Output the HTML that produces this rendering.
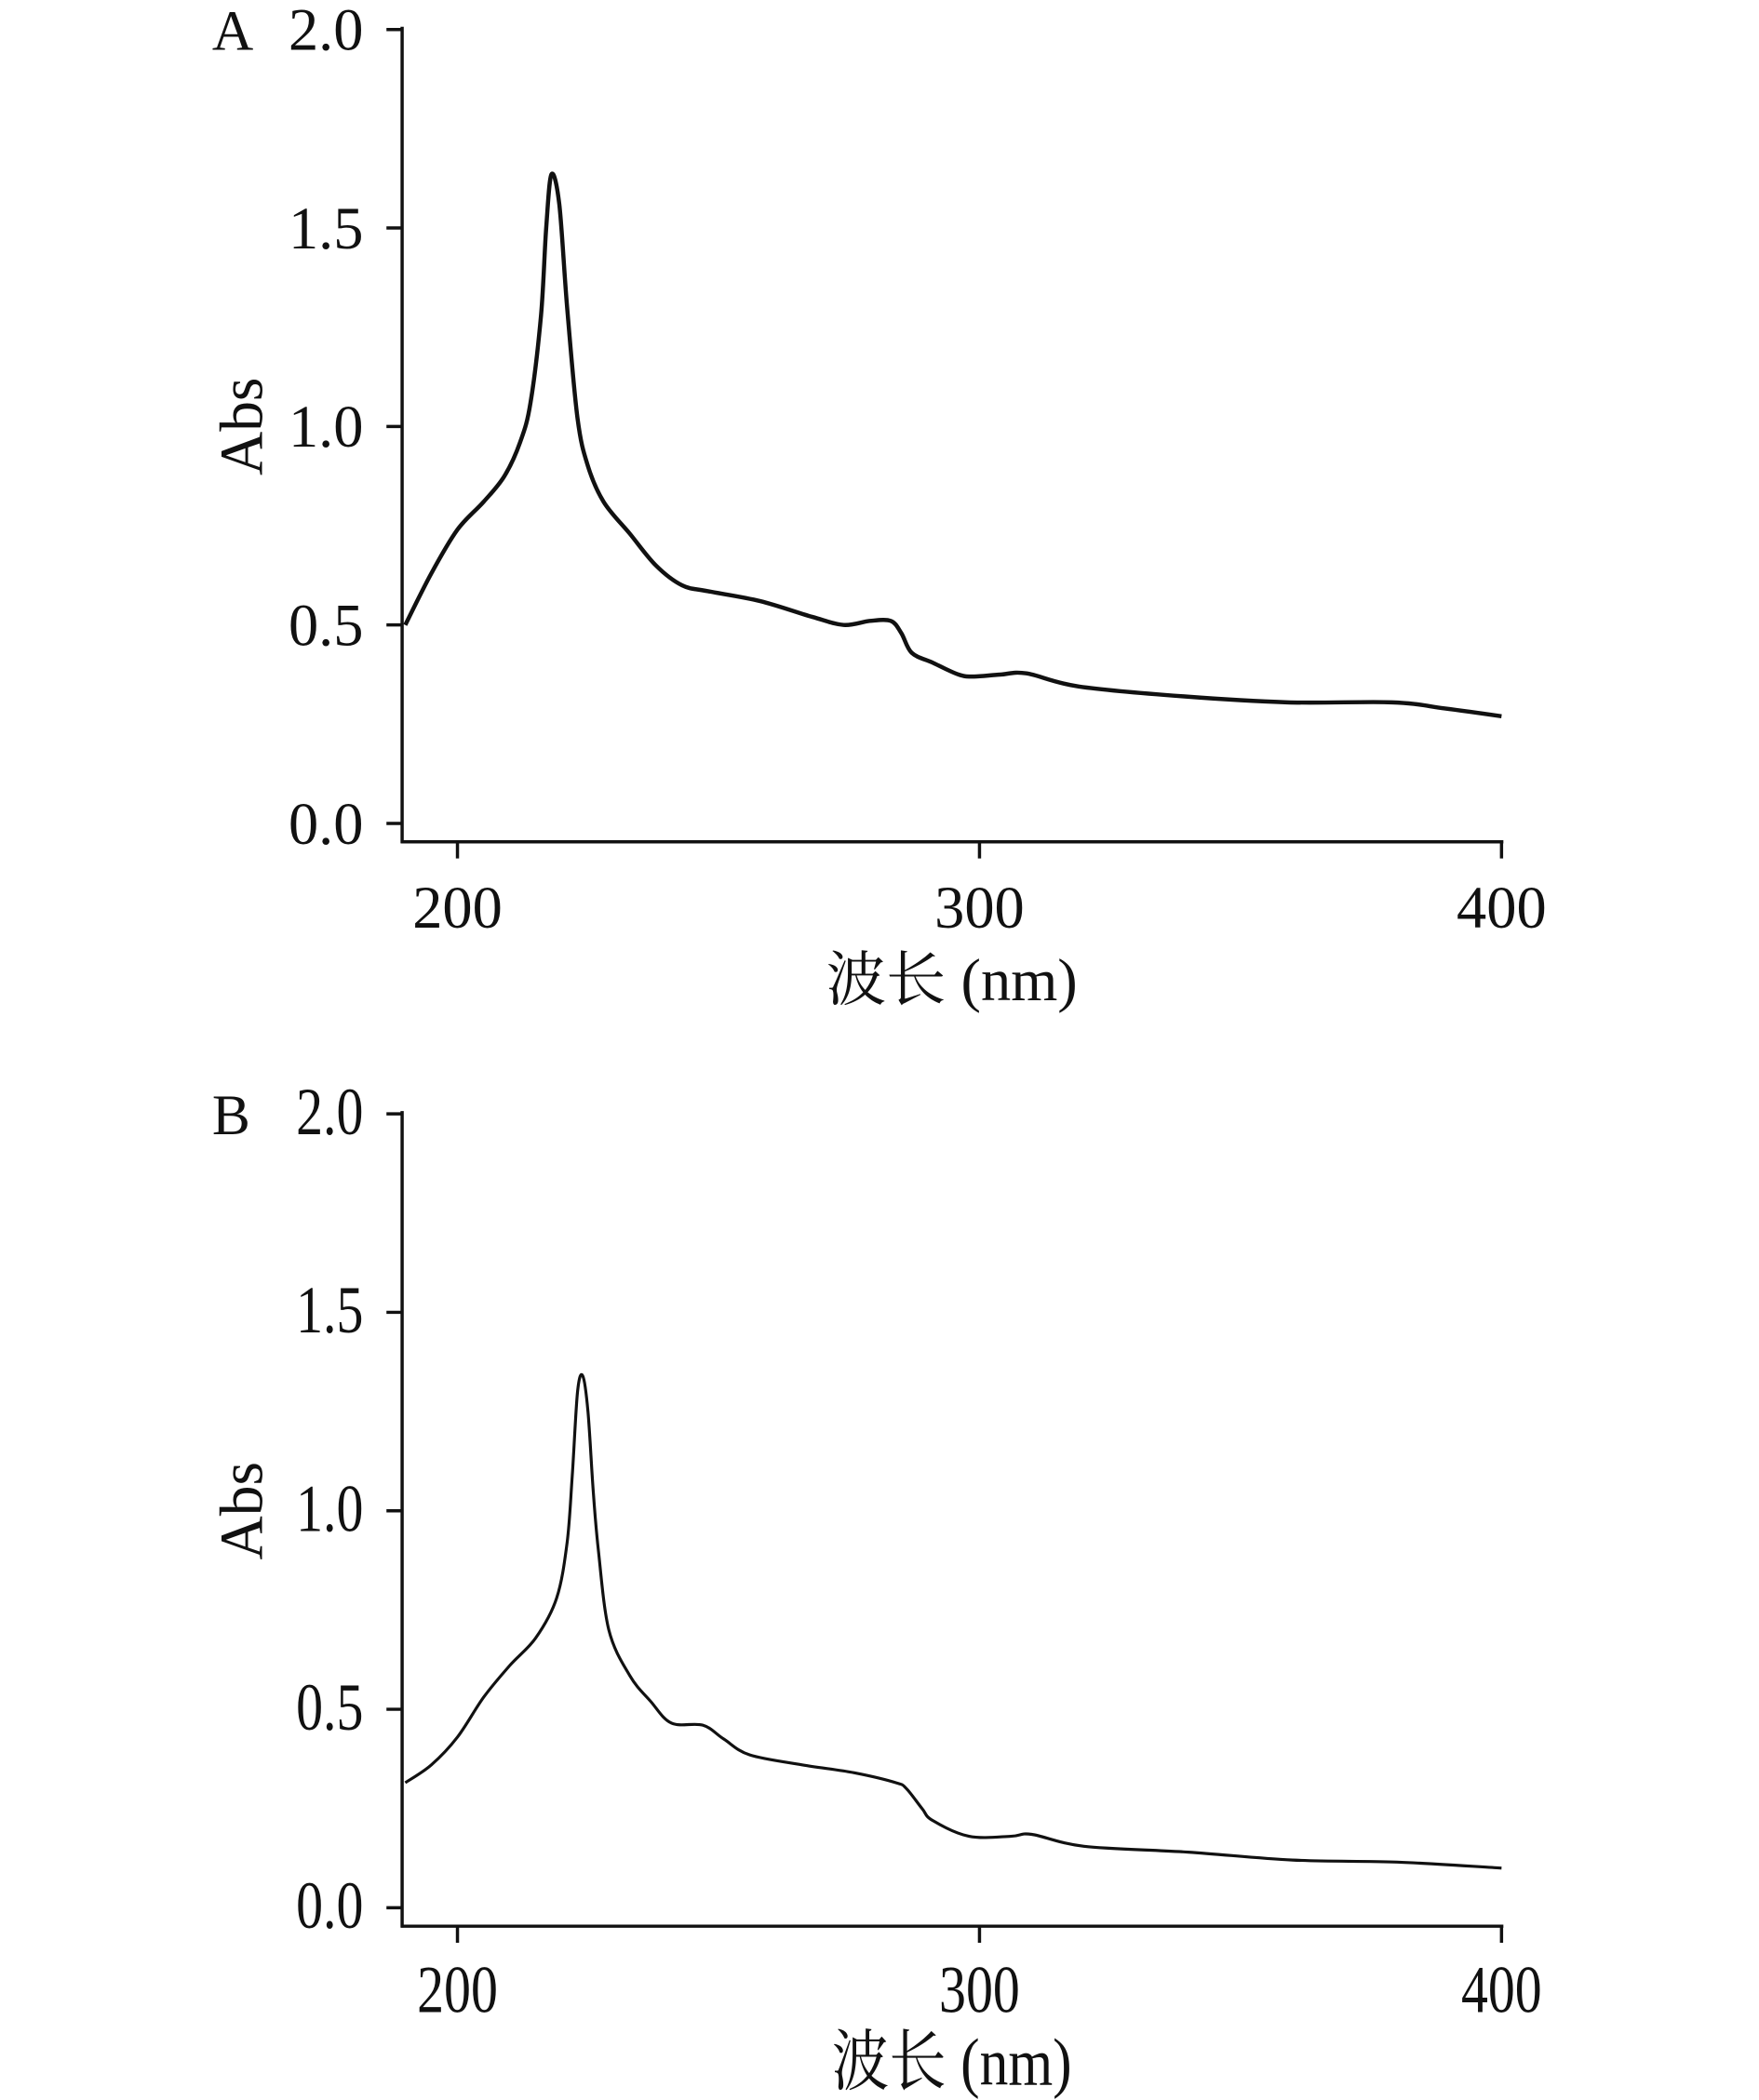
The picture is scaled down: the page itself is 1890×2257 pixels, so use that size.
<!DOCTYPE html>
<html><head><meta charset="utf-8"><style>
html,body{margin:0;padding:0;background:#fff;}
svg{display:block;}
text{font-family:"Liberation Serif","Noto Serif CJK SC",serif;fill:#111;}
</style></head><body>
<svg id="fig" width="1890" height="2257" viewBox="0 0 1890 2257"><g id="root" transform="scale(0.991)"></g></svg>
<script>
const tickValuesY = [0.0, 0.5, 1.0, 1.5, 2.0];
const tickLabelsY = ["0.0", "0.5", "1.0", "1.5", "2.0"];
const tickValuesX = [200, 300, 400];
const tickLabelsX = ["200", "300", "400"];
const wavelengthA = [190,195,200,205,209,212,214,216,217,218,219.5,221,223,225,228,233,238,243,248,258,268,274,279,283,285,287,291,296,299,304,309,319,339,359,379,389,400];
const absA = [0.50,0.63,0.74,0.81,0.875,0.96,1.06,1.28,1.50,1.635,1.56,1.30,1.02,0.90,0.81,0.73,0.65,0.60,0.585,0.56,0.52,0.50,0.51,0.51,0.48,0.43,0.405,0.375,0.37,0.375,0.378,0.345,0.32,0.305,0.305,0.29,0.27];
const wavelengthB = [190,195,200,205,210,215,219,221,222,223,224,225,226,227,229,233,237,241,247,251,256,266,276,284,286,289,291,298,306,310,320,340,360,380,400];
const absB = [0.315,0.36,0.43,0.53,0.61,0.68,0.78,0.92,1.09,1.30,1.34,1.25,1.05,0.90,0.70,0.585,0.52,0.465,0.46,0.425,0.385,0.36,0.34,0.315,0.30,0.25,0.22,0.18,0.18,0.185,0.155,0.14,0.12,0.115,0.10];

const NS = "http://www.w3.org/2000/svg";
const svg = document.getElementById('root');
function mk(tag, attrs, parent){const e=document.createElementNS(NS,tag);for(const k in attrs)e.setAttribute(k,attrs[k]);(parent||svg).appendChild(e);return e;}
function smooth(p){
  let d='M'+p[0][0].toFixed(1)+','+p[0][1].toFixed(1);
  for(let i=0;i<p.length-1;i++){
    const p0=p[i-1]||p[i],p1=p[i],p2=p[i+1],p3=p[i+2]||p2;
    const c1=[p1[0]+(p2[0]-p0[0])/6,p1[1]+(p2[1]-p0[1])/6];
    const c2=[p2[0]-(p3[0]-p1[0])/6,p2[1]-(p3[1]-p1[1])/6];
    d+=' C'+c1.map(v=>v.toFixed(1)).join(',')+' '+c2.map(v=>v.toFixed(1)).join(',')+' '+p2.map(v=>v.toFixed(1)).join(',');
  }
  return d;
}

function panel(letter, y0, y2, axisY, xs, ys, sw, condensed){
  const g = mk('g',{});
  
  
  const xScale = v => 496 + (v-200)*(1628-496)/200;
  const yScale = v => y0 - v*(y0-y2)/2;
  const axL = 436;
  const sx = condensed ? 0.8 : 1;
  const fs = condensed ? 73 : 65;
  const ya = mk('line',{x1:axL,y1:y2-3,x2:axL,y2:axisY+1.5,stroke:'#111','stroke-width':3.5},g);
  
  
  const xa = mk('line',{x1:axL-1.5,y1:axisY,x2:1630,y2:axisY,stroke:'#111','stroke-width':3.5},g);
  
  
  tickValuesY.forEach((v,i)=>{
    const y=yScale(v);
    const t=mk('line',{x1:axL-17,y1:y,x2:axL,y2:y,stroke:'#111','stroke-width':3.5},g);
    
    
    const lx = 394;
    const l=mk('text',{x:lx,y:y+22,'text-anchor':'end','font-size':fs,transform:`translate(${lx},0) scale(${sx},1) translate(${-lx},0)`},g);
    l.textContent=tickLabelsY[i];
    
    
  });
  tickValuesX.forEach((v,i)=>{
    const x=xScale(v);
    const t=mk('line',{x1:x,y1:axisY,x2:x,y2:axisY+18,stroke:'#111','stroke-width':3.5},g);
    
    
    const l=mk('text',{x:x,y:axisY+93,'text-anchor':'middle','font-size':fs,transform:`translate(${x},0) scale(${sx},1) translate(${-x},0)`},g);
    l.textContent=tickLabelsX[i];
    
    
  });
  const xt=mk('text',{x:1032,y:axisY+172,'text-anchor':'middle','font-size':fs,transform:`translate(1032,0) scale(${condensed?0.85:1},1) translate(-1032,0)`},g);
  xt.textContent='波长 (nm)';
  
  
  const cy=(y0+y2)/2;
  const yt=mk('text',{x:0,y:0,'text-anchor':'middle','font-size':66,transform:`translate(284,${cy}) rotate(-90)`},g);
  yt.textContent='Abs';
  
  
  const pl=mk('text',{x:230,y:y2+22,'font-size':62},g);
  pl.textContent=letter;
  
  
  const pts = xs.map((v,i)=>[xScale(v),yScale(ys[i])]);
  const line=mk('path',{d:smooth(pts),fill:'none',stroke:'#111','stroke-width':sw,'stroke-linejoin':'round'},g);
  
  
}
panel('A', 893, 32, 913, wavelengthA, absA, 4.5, false);
panel('B', 2069, 1208, 2089, wavelengthB, absB, 3.2, true);
</script>
</body></html>
